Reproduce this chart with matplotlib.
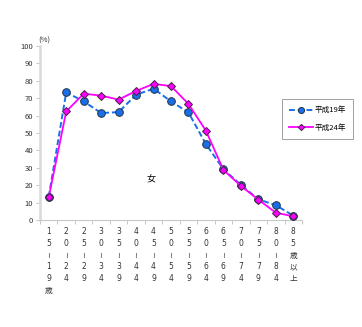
import matplotlib.pyplot as plt
import numpy as np

plt.rcParams['font.family'] = ['Noto Sans CJK JP', 'DejaVu Sans']

# 年齢階級
age_labels = ["1\n5\n≀\n1\n9\n歳", "2\n0\n≀\n2\n4", "2\n5\n≀\n2\n9", "3\n0\n≀\n3\n4",
              "3\n5\n≀\n3\n9", "4\n0\n≀\n4\n4", "4\n5\n≀\n4\n9", "5\n0\n≀\n5\n4",
              "5\n5\n≀\n5\n9", "6\n0\n≀\n6\n4", "6\n5\n≀\n6\n9", "7\n0\n≀\n7\n4",
              "7\n5\n≀\n7\n9", "8\n0\n≀\n8\n4", "8\n5\n歳\n以\n上"]
h19 = [13.3, 73.4, 68.2, 61.5, 62.0, 72.0, 75.5, 68.2, 61.8, 43.6, 29.2, 20.2, 11.9, 8.5, 2.5]
h24 = [13.0, 62.4, 72.6, 71.5, 69.2, 74.2, 78.2, 77.0, 66.7, 51.3, 28.8, 19.6, 11.7, 4.2, 2.1]

fig = plt.figure(figsize=(3.62, 3.27), dpi=100)
ax = fig.add_axes([0.1105, 0.3272, 0.7238, 0.532])

x = np.arange(len(age_labels))
ax.plot(x, h19, color='#1a6fe8', ls=(0, (3, 1.5)), lw=1.4, marker='o', ms=5.5,
        mfc='#1a6fe8', mec='#223344', mew=0.7, label='平成19年', zorder=3)
ax.plot(x, h24, color='#ff00ff', ls='-', lw=1.3, marker='D', ms=4,
        mfc='#ff00ff', mec='#442244', mew=0.7, label='平成24年', zorder=4)

ax.set_xlim(-0.5, len(age_labels) - 0.5)
ax.set_ylim(0, 100)
ax.set_yticks(range(0, 101, 10))
ax.tick_params(axis='y', labelsize=5.5, length=3, width=0.6, color='#bbbbbb',
               labelcolor='#333333', pad=2)
ax.set_xticks(x)
ax.set_xticklabels(age_labels, fontsize=5.5, color='#333333', linespacing=1.4, va='top',
                   family=['DejaVu Sans', 'Noto Sans CJK JP'])
ax.set_xticks(np.arange(-0.5, len(age_labels), 1), minor=True)
ax.tick_params(axis='x', which='major', length=0, pad=5)
ax.tick_params(axis='x', which='minor', length=3, width=0.6, color='#bbbbbb')

for s in ['top', 'right']:
    ax.spines[s].set_visible(False)
ax.spines['left'].set_color('#d9d9d9')
ax.spines['left'].set_linewidth(1.8)
ax.spines['bottom'].set_color('#c8c8c8')
ax.spines['bottom'].set_linewidth(0.8)

ax.text(-0.58, 101, '(%)', fontsize=5.5, color='#333333', ha='left', va='bottom')
ax.text(5.85, 23, '女', fontsize=6.5, ha='center', va='center')

leg = fig.legend(loc='upper left', bbox_to_anchor=(281.7 / 362, 1 - 99.3 / 327),
                 fontsize=5.5, frameon=True, fancybox=False, edgecolor='#888888',
                 handlelength=3.2, labelspacing=1.3, borderpad=0.9, handletextpad=0.2,
                 borderaxespad=0, markerscale=0.8)
leg.get_frame().set_linewidth(0.7)

plt.savefig('out.png', dpi=100)
